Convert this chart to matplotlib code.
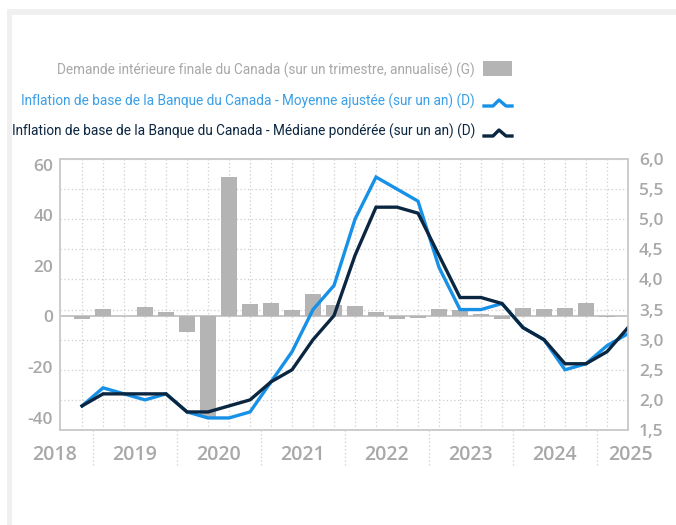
import numpy as np
import matplotlib
matplotlib.use("Agg")
import matplotlib.pyplot as plt
import matplotlib.transforms as mtransforms
from matplotlib.lines import Line2D
from matplotlib.patches import Rectangle

# Data: quarterly, from 2018 Q4 to 2025 Q2
demande = [-1.0, 2.8, 0.3, 3.8, 1.9, -6.3, -39.7, 55.1, 5.0, 5.5, 2.4, 9.0, 4.6,
           4.3, 1.9, -0.8, -0.4, 2.8, 2.4, 1.1, -1.1, 3.4, 3.0, 3.4, 5.4, -0.3, np.nan]
moyenne = [1.9, 2.2, 2.1, 2.0, 2.1, 1.8, 1.7, 1.7, 1.8, 2.3, 2.8, 3.5, 3.9, 5.0,
           5.7, 5.5, 5.3, 4.2, 3.5, 3.5, 3.6, 3.2, 3.0, 2.5, 2.6, 2.9, 3.1]
mediane = [1.9, 2.1, 2.1, 2.1, 2.1, 1.8, 1.8, 1.9, 2.0, 2.3, 2.5, 3.0, 3.4, 4.4,
           5.2, 5.2, 5.1, 4.4, 3.7, 3.7, 3.6, 3.2, 3.0, 2.6, 2.6, 2.8, 3.2]
years = ["2018", "2019", "2020", "2021", "2022", "2023", "2024", "2025"]
year_pos = [-1.33, 2.5, 6.5, 10.5, 14.5, 18.5, 22.5, 26.1]
year_sep = [0.5, 4.5, 8.5, 12.5, 16.5, 20.5, 24.5]

legend_labels = ["Demande intérieure finale du Canada (sur un trimestre, annualisé) (G)",
                 "Inflation de base de la Banque du Canada - Moyenne ajustée (sur un an) (D)",
                 "Inflation de base de la Banque du Canada - Médiane pondérée (sur un an) (D)"]

GRAY_BAR = "#b4b4b4"
BLUE = "#1791e8"
NAVY = "#0b2641"
TXT_GRAY = "#a8a8a8"

plt.rcParams['font.family'] = ['Open Sans', 'DejaVu Sans']
plt.rcParams['axes.unicode_minus'] = False

W, H = 676, 525
fig = plt.figure(figsize=(W / 100, H / 100), dpi=100)

# light frame at top / left
fig.add_artist(Rectangle((7 / W, 1 - 15 / H), 1, 6 / H, transform=fig.transFigure,
                         color="#f0f0f0", lw=0))
fig.add_artist(Rectangle((7 / W, 0), 5 / W, 1 - 9 / H, transform=fig.transFigure,
                         color="#f0f0f0", lw=0))

ax = fig.add_axes([60 / W, 1 - 430 / H, (628 - 60) / W, (430 - 159) / H])
ax2 = ax.twinx()

x = np.arange(len(moyenne))
ylo, yhi = -44.9, 62.3
rlo, rhi = 1.5, 6.0

# grid on the left axes (behind bars)
rticks = np.arange(1.5, 6.01, 0.5)
ax.set_yticks(ylo + (rticks - rlo) / (rhi - rlo) * (yhi - ylo), minor=True)
ax.grid(which='minor', axis='y', color='#cfcfcf', linestyle=(0, (1, 2)), lw=0.9)
ax.set_xticks(x)
ax.grid(which='major', axis='x', color='#cfcfcf', linestyle=(0, (1, 2)), lw=0.9)
ax.set_xticklabels([])
ax.set_axisbelow(True)

ax.bar(x, demande, width=0.8, color=GRAY_BAR, zorder=2)
ax.axhline(0, color='#bdbdbd', lw=1.2, zorder=1.5)

ax2.plot(x, moyenne, color=BLUE, lw=2.4, solid_joinstyle='miter')
ax2.plot(x, mediane, color=NAVY, lw=2.4, solid_joinstyle='miter')

ax.set_xlim(-1.05, 26)
ax.set_ylim(ylo, yhi)
ax2.set_ylim(rlo, rhi)

ax.set_yticks([-40, -20, 0, 20, 40, 60])
ax2.set_yticks(rticks)
ax2.set_yticklabels([f"{v:.1f}".replace(".", ",") for v in rticks])
for a in (ax, ax2):
    a.tick_params(which='both', length=0, colors=TXT_GRAY, labelsize=12.5)
    for s in a.spines.values():
        s.set_color('#cccccc')
        s.set_linewidth(1.2)
    for lab in a.get_yticklabels():
        lab.set_fontweight('semibold')
ax.tick_params(axis='y', pad=5)
ax2.tick_params(axis='y', pad=8)

# year labels and separators under the axis
trans = mtransforms.blended_transform_factory(ax.transData, ax.transAxes)
for xs in year_sep:
    ax.plot([xs, xs], [0, -35 / 271], transform=trans, color='#cfcfcf',
            linestyle=(0, (1, 2)), lw=0.9, clip_on=False)
for yr, xp in zip(years, year_pos):
    ax.text(xp, -25 / 271, yr, transform=trans, ha='center', va='center',
            fontsize=14, fontweight='semibold', color=TXT_GRAY)

# legend drawn by hand at the top, font size fitted to the reference width
leg_font = ['Roboto', 'DejaVu Sans']
leg_colors = [TXT_GRAY, "#3a9fe8", NAVY]
leg_y = [70, 101, 131]
texts = []
for lab, col, yy in zip(legend_labels, leg_colors, leg_y):
    texts.append(fig.text(475 / W, 1 - yy / H, lab, ha='right', va='center', color=col,
                          fontsize=12, family=leg_font))
r = fig.canvas.get_renderer()
wid = texts[0].get_window_extent(r).width
for t in texts:
    t.set_fontsize(12 * 417 / wid)

fig.add_artist(Rectangle((483 / W, 1 - 76 / H), 29 / W, 15 / H,
                         transform=fig.transFigure, color=GRAY_BAR, lw=0))
for col, yy in zip([BLUE, NAVY], [106, 136]):
    px = np.array([484, 493, 499, 506, 512]) / W
    py = 1 - np.array([yy, yy, yy - 6, yy, yy]) / H
    fig.add_artist(Line2D(px, py, transform=fig.transFigure, color=col, lw=2.4))

fig.savefig("out.png", dpi=100)
